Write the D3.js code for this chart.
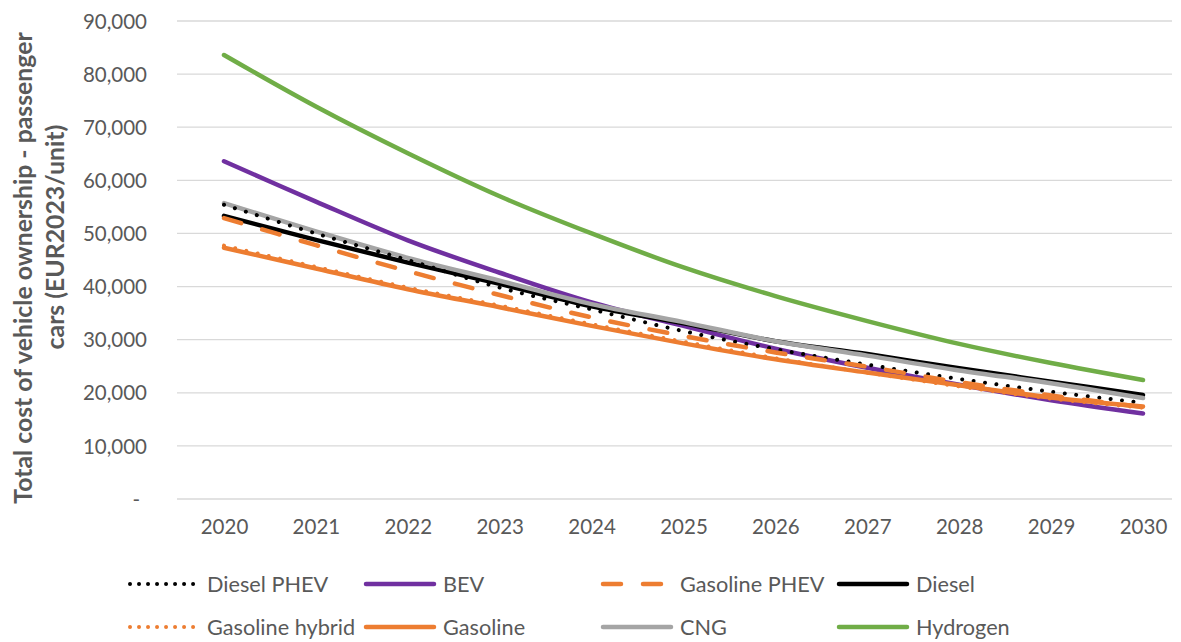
<!DOCTYPE html>
<html>
<head>
<meta charset="utf-8">
<script src="https://cdn.jsdelivr.net/npm/d3@7"></script>
<style>
  html, body { margin: 0; padding: 0; background: #fff; }
  svg { display: block; font-family: Lato, "Open Sans", "Liberation Sans", sans-serif; }
</style>
</head>
<body>
<svg id="chart" width="1181" height="642"></svg>
<script>
// Total cost of vehicle ownership, passenger cars (EUR2023/unit)
const years = [2020, 2021, 2022, 2023, 2024, 2025, 2026, 2027, 2028, 2029, 2030];
const yTicks = [0, 10000, 20000, 30000, 40000, 50000, 60000, 70000, 80000, 90000];

const dieselPhev     = [55400, 50000, 45000, 39800, 35700, 31600, 28200, 25300, 22600, 20200, 18100];
const bev            = [63600, 56000, 48700, 42600, 37000, 32600, 28300, 24700, 21500, 18600, 16100];
const gasolinePhev   = [52900, 47800, 42900, 38400, 34200, 30700, 27600, 24900, 22000, 19500, 17300];
const diesel         = [53300, 48800, 44500, 40500, 36300, 33100, 29700, 27300, 24600, 22100, 19600];
const gasolineHybrid = [47700, 43700, 39800, 36400, 32900, 29600, 26500, 23800, 21200, 18900, 17200];
const gasoline       = [47300, 43400, 39500, 36100, 32600, 29300, 26300, 23800, 21400, 19100, 17400];
const cng            = [55700, 50400, 45400, 41100, 36700, 33300, 29700, 27000, 24200, 21800, 19000];
const hydrogen       = [83600, 73900, 65100, 57000, 50000, 43600, 38200, 33500, 29200, 25600, 22400];

const orange = "#ed7d31";
const series = [
  { name: "Diesel PHEV",     values: dieselPhev,     color: "#000000", style: "dot" },
  { name: "BEV",             values: bev,            color: "#7030a0", style: "solid" },
  { name: "Gasoline PHEV",   values: gasolinePhev,   color: orange,    style: "dash" },
  { name: "Diesel",          values: diesel,         color: "#000000", style: "solid" },
  { name: "Gasoline hybrid", values: gasolineHybrid, color: orange,    style: "dot" },
  { name: "Gasoline",        values: gasoline,       color: orange,    style: "solid" },
  { name: "CNG",             values: cng,            color: "#a5a5a5", style: "solid" },
  { name: "Hydrogen",        values: hydrogen,       color: "#70ad47", style: "solid" }
];
// drawing order (bottom to top)
const drawOrder = ["BEV", "Diesel", "CNG", "Diesel PHEV", "Gasoline PHEV", "Gasoline", "Gasoline hybrid", "Hydrogen"];

const svg = d3.select("#chart");
const textColor = "#595959";

const x = d3.scalePoint().domain(years).range([224, 1143]);
const y = d3.scaleLinear().domain([0, 90000]).range([499, 21]);
const gridLeft = 177, gridRight = 1172;

// horizontal gridlines
svg.append("g")
  .selectAll("line")
  .data(yTicks)
  .join("line")
  .attr("x1", gridLeft).attr("x2", gridRight)
  .attr("y1", d => y(d)).attr("y2", d => y(d))
  .attr("stroke", "#d9d9d9").attr("stroke-width", 1.3);

// y axis labels
const fmt = d3.format(",");
const yAxis = d3.axisLeft(y).tickValues(yTicks).tickSize(0).tickPadding(0)
  .tickFormat(d => d === 0 ? "-" : fmt(d));
const gy = svg.append("g").attr("transform", "translate(147,0)").call(yAxis);
gy.select(".domain").remove();
gy.selectAll("text")
  .attr("fill", textColor)
  .style("font-size", "20.5px")
  .style("font-family", "Lato, sans-serif")
  .attr("dy", "0.35em")
  .attr("dx", d => d === 0 ? -7 : 0);

// x axis labels
const xAxis = d3.axisBottom(x).tickSize(0).tickPadding(0).tickFormat(d3.format("d"));
const gx = svg.append("g").attr("transform", "translate(0,527)").call(xAxis);
gx.select(".domain").remove();
gx.selectAll("text")
  .attr("fill", textColor)
  .style("font-size", "20.5px")
  .style("font-family", "Lato, sans-serif")
  .attr("dy", "0.35em");

// y axis title (two lines)
const title = svg.append("g").attr("fill", textColor)
  .style("font-size", "24.8px").style("font-weight", "bold");
title.append("text")
  .attr("transform", "translate(32,268) rotate(-90)")
  .attr("text-anchor", "middle")
  .text("Total cost of vehicle ownership - passenger");
title.append("text")
  .attr("transform", "translate(64,237) rotate(-90)")
  .attr("text-anchor", "middle")
  .text("cars (EUR2023/unit)");

// line styles
function applyStyle(sel, style, legend) {
  sel.attr("stroke-width", style === "dot" ? 4 : 4.5)
     .attr("stroke-linecap", "round")
     .attr("stroke-linejoin", "round")
     .attr("fill", "none");
  if (style === "dot") sel.attr("stroke-dasharray", legend ? "0.01 9" : "0.01 11.5");
  else if (style === "dash") sel.attr("stroke-dasharray", "18 22");
}

const line = d3.line()
  .x((d, i) => x(years[i]))
  .y(d => y(d))
  .curve(d3.curveCatmullRom.alpha(0.5));

const gLines = svg.append("g");
drawOrder.forEach(name => {
  const s = series.find(v => v.name === name);
  const p = gLines.append("path")
    .attr("d", line(s.values))
    .attr("stroke", s.color);
  applyStyle(p, s.style, false);
});

// legend: two rows of four
const colX = [130, 366, 603, 839];
const rowY = [584, 627];
const legend = svg.append("g");
series.forEach((s, i) => {
  const cx = colX[i % 4], cy = rowY[Math.floor(i / 4)];
  const g = legend.append("g");
  let x1 = cx, x2 = cx + 68;
  if (s.style === "dot") { x1 = cx; x2 = cx + 64; }
  const l = g.append("line").attr("x1", x1).attr("x2", x2).attr("y1", cy).attr("y2", cy)
    .attr("stroke", s.color);
  applyStyle(l, s.style, true);
  g.append("text")
    .attr("x", cx + 77).attr("y", cy).attr("dy", "0.35em")
    .attr("fill", textColor)
    .style("font-size", "21.7px")
    .text(s.name);
});
</script>
</body>
</html>
